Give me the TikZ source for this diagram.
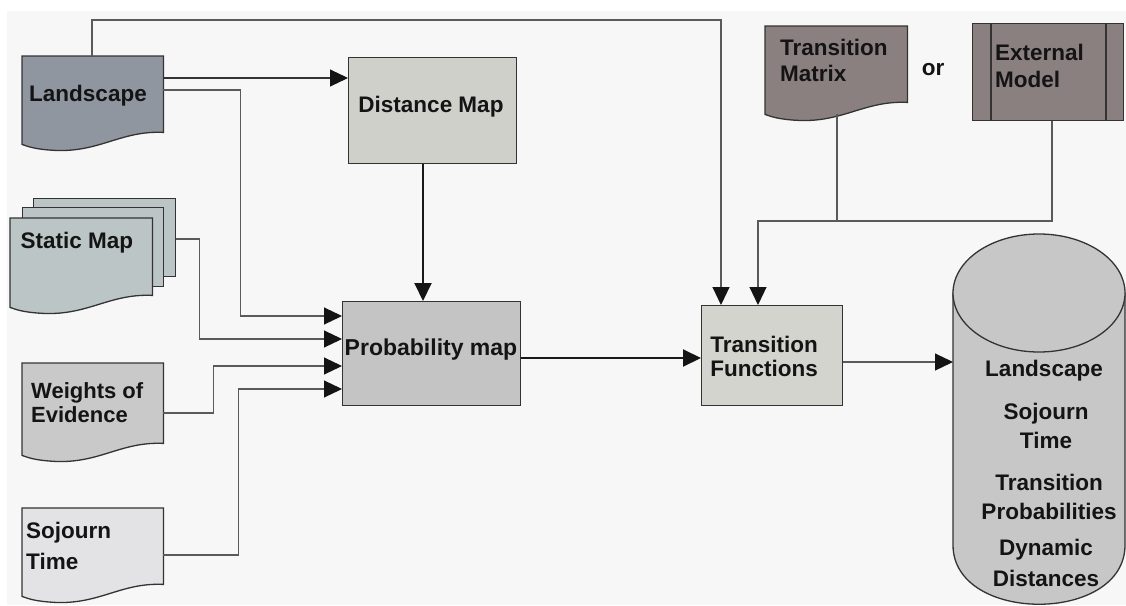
\documentclass[tikz,border=0pt]{standalone}
\usepackage{fontspec}
\setmainfont{Liberation Sans}
\usetikzlibrary{calc,arrows.meta}
\definecolor{bgc}{HTML}{F7F7F7}
\definecolor{landc}{HTML}{8F96A0}
\definecolor{statc}{HTML}{BCC5C5}
\definecolor{woec}{HTML}{C9C9C9}
\definecolor{sojc}{HTML}{E3E3E5}
\definecolor{distc}{HTML}{D0D0CB}
\definecolor{probc}{HTML}{C4C4C4}
\definecolor{tfc}{HTML}{D4D4CE}
\definecolor{brownc}{HTML}{8B8080}
\definecolor{cylc}{HTML}{C7C7C7}
\definecolor{edgec}{HTML}{333333}
\definecolor{wirec}{HTML}{5A5A5A}
\newcommand\docout[2]{%
  \filldraw[shapeline, fill=#2] (#1.north west) -- (#1.north east) -- (#1.south east)
  .. controls ($(#1.south west)!0.7!(#1.south east)+(0,-2)$) and ($(#1.south west)!0.55!(#1.south east)+(0,20)$)
  .. ($(#1.south west)!0.235!(#1.south east)+(0,18)$)
  .. controls ($(#1.south west)!0.09!(#1.south east)+(0,17)$) and ($(#1.south west)!0.04!(#1.south east)+(0,14)$)
  .. ($(#1.south west)+(0,12)$) -- cycle;}
\begin{document}
\begin{tikzpicture}[x=1pt,y=-1pt,
  shapeline/.style={draw=edgec, line width=1.3pt},
  area/.style={draw=none, inner sep=0pt, anchor=north west},
  boxnode/.style={shapeline, inner sep=0pt, anchor=north west},
  lbl/.style={font=\fontsize{22.5}{27}\selectfont\bfseries, text=black!92, inner sep=0pt},
  wire/.style={draw=wirec, line width=1.1pt},
  thick wire/.style={draw=black!90, line width=2pt},
  arr/.style={-{Triangle[length=18pt,width=17pt,color=black!92]}}]
\useasboundingbox (0,0) rectangle (1126,605);
\fill[white] (0,0) rectangle (1126,605);
\fill[bgc] (7,11) rectangle (1126,605);

% document shapes
\node[area, minimum width=141, minimum height=76] (land) at (22,56) {};
\docout{land}{landc}
\node[lbl] (landL) at (88,96) {Landscape};

\node[boxnode, fill=statc, minimum width=142, minimum height=78] (st3) at (33,198) {};
\node[boxnode, fill=statc, minimum width=141, minimum height=79] (st2) at (22,207) {};
\node[area, minimum width=142, minimum height=77] (st1) at (10,218) {};
\docout{st1}{statc}
\node[lbl] (stL) at (77,243) {Static Map};

\node[area, minimum width=141, minimum height=80] (woe) at (22,363) {};
\docout{woe}{woec}
\node[lbl, align=left, font=\fontsize{22}{24}\selectfont\bfseries, anchor=west] (woeL) at (31,403) {Weights of\\Evidence};

\node[area, minimum width=141, minimum height=76] (soj) at (22,508) {};
\docout{soj}{sojc}
\node[lbl, align=left, font=\fontsize{22.5}{31}\selectfont\bfseries, anchor=west] (sojL) at (26,546) {Sojourn\\Time};

\node[area, minimum width=142, minimum height=76] (tm) at (765,26) {};
\docout{tm}{brownc}
\node[lbl, align=left, font=\fontsize{22.5}{26}\selectfont\bfseries, anchor=west] (tmL) at (780,60) {Transition\\Matrix};

\node[lbl] (orL) at (933,70) {or};

\node[boxnode, fill=brownc, minimum width=151, minimum height=97] (em) at (972,23) {};
\draw[shapeline] ($(em.north west)+(19,0)$) -- ($(em.south west)+(19,0)$);
\draw[shapeline] ($(em.north west)+(134,0)$) -- ($(em.south west)+(134,0)$);
\node[lbl, align=left, anchor=west] (emL) at (995,66) {External\\Model};

% boxes
\node[boxnode, fill=distc, minimum width=168, minimum height=106] (dist) at (348,57) {};
\node[lbl] (distL) at (431,107) {Distance Map};

\node[boxnode, fill=probc, minimum width=178, minimum height=104] (prob) at (342,301) {};
\node[lbl, font=\fontsize{23}{27}\selectfont\bfseries] (probL) at (431,350) {Probability map};

\node[boxnode, fill=tfc, minimum width=141, minimum height=100] (tf) at (701,305) {};
\node[lbl, align=center, font=\fontsize{22.5}{24}\selectfont\bfseries] (tfL) at (764,356) {Transition\\Functions};

% cylinder
\node[area, minimum width=172, minimum height=371] (cyl) at (953,233) {};
\filldraw[shapeline, fill=cylc] (953,293) -- (953,545) .. controls (953,624) and (1125,624) .. (1125,545) -- (1125,293) -- cycle;
\filldraw[shapeline, fill=cylc] (1039,293) ellipse [x radius=86, y radius=59];
\node[lbl] (c1) at (1044,371) {Landscape};
\node[lbl, align=center, font=\fontsize{22.5}{29}\selectfont\bfseries] (c2) at (1046,426) {Sojourn\\Time};
\node[lbl, align=center, font=\fontsize{22.5}{29}\selectfont\bfseries] (c3) at (1049,497) {Transition\\Probabilities};
\node[lbl, align=center, font=\fontsize{22.5}{31}\selectfont\bfseries] (c4) at (1046,563) {Dynamic\\Distances};

% connectors
\draw[wire, arr] ($(land.north west)+(70,0)$) -- ++(0,-36) -| ($(tf.north west)+(20,0)$);
\draw[wire, draw=edgec, arr] ($(land.north east)+(0,22)$) -- ($(dist.north west)+(0,21)$);
\draw[wire, arr] ($(land.north east)+(0,34)$) -- ++(77,0) |- ($(prob.north west)+(0,15)$);
\draw[wire, arr] ($(st3.north east)+(0,41)$) -- ++(23,0) |- ($(prob.north west)+(0,38)$);
\draw[wire, arr] ($(woe.north east)+(0,50)$) -- ++(50,0) |- ($(prob.north west)+(0,65)$);
\draw[wire, arr] ($(soj.north east)+(0,47)$) -- ++(75,0) |- ($(prob.north west)+(0,88)$);
\draw[thick wire, arr] ($(dist.south west)+(75,0)$) -- ($(prob.north west)+(81,0)$);
\draw[thick wire, arr] ($(prob.north east)+(0,57)$) -- ($(tf.north west)+(0,53)$);
\coordinate (jn) at ($(tf.north west)+(57,-84)$);
\coordinate (tmb) at ($(tm.south west)+(72,12)$);
\draw[wire, arr] ($(em.south west)+(80,0)$) |- (jn) -- ($(tf.north west)+(57,0)$);
\draw[wire] (tmb) -- (tmb |- jn);
\draw[wire, arr] ($(tf.north east)+(0,57)$) -- ($(cyl.north west)+(0,129)$);
\end{tikzpicture}
\end{document}
